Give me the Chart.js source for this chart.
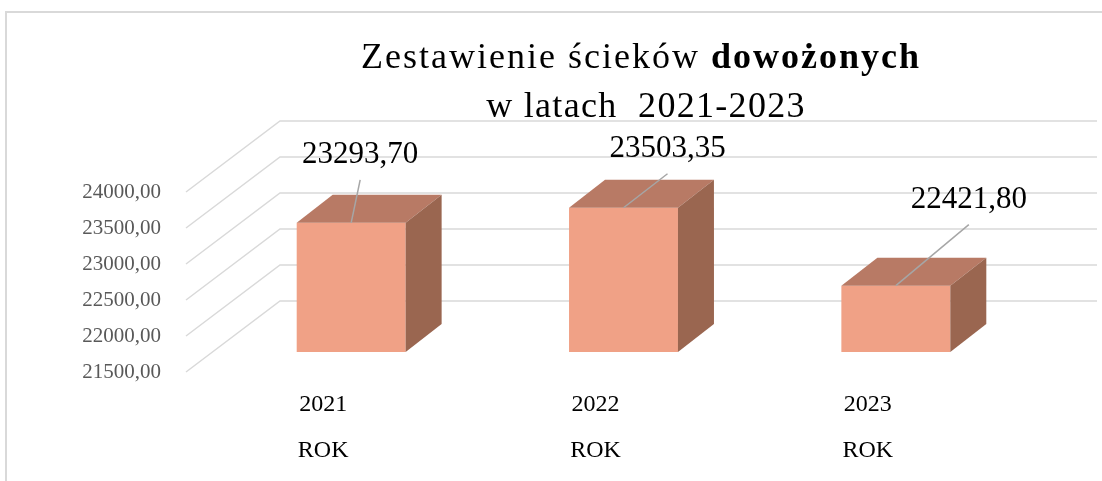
<!DOCTYPE html>
<html>
<head>
<meta charset="utf-8">
<script src="https://cdn.jsdelivr.net/npm/chart.js@4"></script>
<style>
  html, body { margin: 0; padding: 0; background: #ffffff; }
  canvas { display: block; }
</style>
</head>
<body>
<canvas id="sewageChart" width="1102" height="481"></canvas>
<script>
// Data
const years = ['2021', '2022', '2023'];
const yearSubLabel = 'ROK';
const volumes = [23293.70, 23503.35, 22421.80];
const titleLine1 = 'Zestawienie ścieków ';
const titleLine1Bold = 'dowożonych';
const titleLine2 = 'w latach  2021-2023';

// Where Excel put each data label, relative to the bar's top front edge
const labelOffsets = [[9, -68], [44, -59], [73, -86]];

// 3D look: bar depth, floor/walls relative to the plane of the bar fronts
const DEPTH = { dx: 36, dy: -28 };
const WALL_BACK = { dx: 65, dy: -51 };
const WALL_FRONT = { dx: -29, dy: 20 };

const FONT = "'Liberation Serif', 'Times New Roman', serif";
const colors = {
  front: '#F0A186',
  top: '#B87A65',
  side: '#9A6650',
  grid: '#D9D9D9',
  leader: '#A6A6A6'
};

const fmt = v => v.toFixed(2).replace('.', ',');

// Back wall + left wall gridlines, drawn behind the bars
const wallPlugin = {
  id: 'walls',
  beforeDatasetsDraw(chart) {
    const { ctx, chartArea, scales } = chart;
    const y = scales.y;
    ctx.save();
    ctx.strokeStyle = colors.grid;
    ctx.lineWidth = 1.5;
    y.ticks.forEach(t => {
      const py = y.getPixelForValue(t.value);
      ctx.beginPath();
      ctx.moveTo(chartArea.left + WALL_FRONT.dx, py + WALL_FRONT.dy);
      ctx.lineTo(chartArea.left + WALL_BACK.dx, py + WALL_BACK.dy);
      ctx.lineTo(chartArea.right + WALL_BACK.dx, py + WALL_BACK.dy);
      ctx.stroke();
    });
    ctx.restore();
  },
  beforeDraw(chart) {
    const ctx = chart.ctx;
    ctx.save();
    ctx.strokeStyle = '#D9D9D9';
    ctx.lineWidth = 2;
    ctx.strokeRect(6, 12, 1300, 700);
    ctx.restore();
  }
};

// Top and side faces of the boxes, data labels with leader lines, title
const boxPlugin = {
  id: 'boxes',
  afterDatasetsDraw(chart) {
    const { ctx, chartArea } = chart;
    const meta = chart.getDatasetMeta(0);
    ctx.save();
    meta.data.forEach((bar, i) => {
      const { x, y, base, width } = bar.getProps(['x', 'y', 'base', 'width'], true);
      const bottom = Math.min(base, chartArea.bottom);
      const l = x - width / 2, r = x + width / 2;
      // top face
      ctx.fillStyle = colors.top;
      ctx.beginPath();
      ctx.moveTo(l, y);
      ctx.lineTo(l + DEPTH.dx, y + DEPTH.dy);
      ctx.lineTo(r + DEPTH.dx, y + DEPTH.dy);
      ctx.lineTo(r, y);
      ctx.closePath();
      ctx.fill();
      // side face
      ctx.fillStyle = colors.side;
      ctx.beginPath();
      ctx.moveTo(r, y);
      ctx.lineTo(r + DEPTH.dx, y + DEPTH.dy);
      ctx.lineTo(r + DEPTH.dx, bottom + DEPTH.dy);
      ctx.lineTo(r, bottom);
      ctx.closePath();
      ctx.fill();

      // data label with leader line
      const lx = x + labelOffsets[i][0];
      const ly = y + labelOffsets[i][1];
      ctx.strokeStyle = colors.leader;
      ctx.lineWidth = 1.5;
      ctx.beginPath();
      ctx.moveTo(x, y);
      ctx.lineTo(lx, ly + 25);
      ctx.stroke();
      ctx.fillStyle = '#000000';
      ctx.font = '31px ' + FONT;
      ctx.textAlign = 'center';
      ctx.textBaseline = 'middle';
      ctx.fillText(fmt(volumes[i]), lx, ly);
    });
    ctx.restore();
  },
  afterDraw(chart) {
    const ctx = chart.ctx;
    ctx.save();
    ctx.fillStyle = '#000000';
    ctx.textBaseline = 'alphabetic';
    ctx.textAlign = 'left';
    ctx.letterSpacing = '2px';
    const normal = '36px ' + FONT;
    const bold = 'bold 36px ' + FONT;
    ctx.font = normal;
    const w1 = ctx.measureText(titleLine1).width;
    ctx.font = bold;
    const w2 = ctx.measureText(titleLine1Bold).width;
    const start = 641 - (w1 + w2) / 2;
    ctx.font = normal;
    ctx.fillText(titleLine1, start, 68);
    ctx.font = bold;
    ctx.fillText(titleLine1Bold, start + w1, 68);
    ctx.font = normal;
    ctx.letterSpacing = '1.3px';
    const w3 = ctx.measureText(titleLine2).width;
    ctx.fillText(titleLine2, 646 - w3 / 2, 117);
    ctx.restore();
  }
};

new Chart(document.getElementById('sewageChart'), {
  type: 'bar',
  data: {
    labels: years,
    datasets: [{
      data: volumes,
      backgroundColor: colors.front,
      borderWidth: 0,
      barPercentage: 0.4,
      categoryPercentage: 1
    }]
  },
  plugins: [wallPlugin, boxPlugin],
  options: {
    responsive: false,
    animation: false,
    layout: { padding: { left: 0, top: 172, right: 70, bottom: 0 } },
    plugins: {
      legend: { display: false },
      title: { display: false },
      tooltip: { enabled: false }
    },
    scales: {
      x: {
        afterFit: s => { s.height = 129; },
        grid: { display: false, drawTicks: false },
        border: { display: false },
        ticks: {
          padding: 30,
          labelOffset: -28,
          color: '#000000',
          font: { family: FONT, size: 24, lineHeight: '46px' },
          callback: function (value) {
            return [this.getLabelForValue(value), yearSubLabel];
          }
        }
      },
      y: {
        min: 21500,
        max: 24000,
        afterFit: s => { s.width = 215; },
        grid: { display: false, drawTicks: false },
        border: { display: false },
        ticks: {
          stepSize: 500,
          padding: 54,
          labelOffset: 20,
          color: '#595959',
          font: { family: FONT, size: 21 },
          callback: v => fmt(v)
        }
      }
    }
  }
});
</script>
</body>
</html>
